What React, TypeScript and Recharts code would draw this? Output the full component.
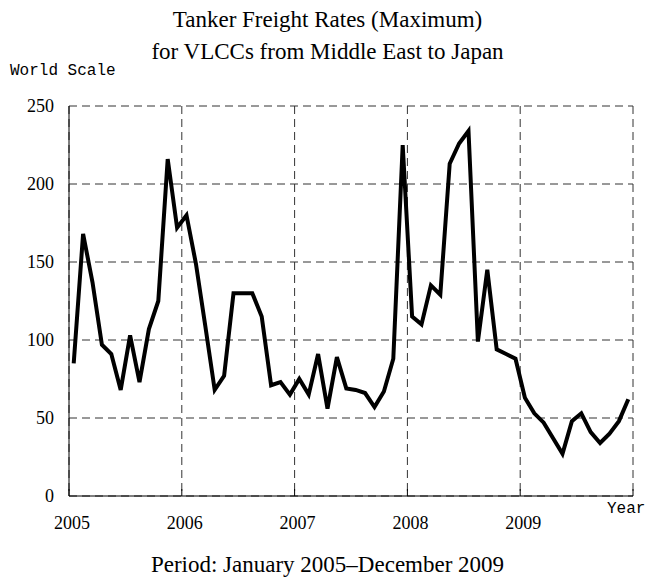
import { LineChart, Line, XAxis, YAxis, CartesianGrid } from 'recharts';

// monthly maximum rates, Jan 2005 - Dec 2009 (World Scale)
const rates = [
  85, 168, 137, 97, 91, 68, 103, 73, 107, 125, 216, 172,
  180, 149, 109, 68, 77, 130, 130, 130, 115, 71, 73, 65,
  75, 65, 91, 56, 89, 69, 68, 66, 57, 67, 88, 225,
  115, 110, 135, 129, 213, 226, 234, 99, 145, 94, 91, 88,
  63, 53, 47, 37, 27, 48, 53, 41, 34, 40, 48, 62
];
const years = ['2005', '2006', '2007', '2008', '2009'];
const yearTicks = [0, 12, 24, 36, 48, 60];
const scaleTicks = [0, 50, 100, 150, 200, 250];

const data = rates.map((v, i) => ({ m: i + 0.5, v }));

const serif = '"Liberation Serif", "Times New Roman", serif';
const mono = '"Liberation Mono", "DejaVu Sans Mono", monospace';

const TICK_GAP = 20;

function YearTick(props: any) {
  const { x, y, payload } = props;
  const label = years[payload.value / 12] ?? '';
  const axisY = y - TICK_GAP;
  return (
    <g>
      <line x1={x} x2={x} y1={axisY} y2={axisY - 7} stroke="#000" />
      <text x={x + 3} y={y} dy="0.71em" textAnchor="middle" fontFamily={serif} fontSize={18} fill="#000">
        {label}
      </text>
    </g>
  );
}

export default function App() {
  return (
    <div style={{ position: 'absolute', left: 0, top: 0, width: 655, height: 581, background: '#fff' }}>
      <div style={{ position: 'absolute', left: 0, width: 655, top: 4, textAlign: 'center', fontFamily: serif, fontSize: 23, lineHeight: '32px' }}>
        Tanker Freight Rates (Maximum)<br />for VLCCs from Middle East to Japan
      </div>
      <div style={{ position: 'absolute', left: 10, top: 62, fontFamily: mono, fontSize: 16 }}>World Scale</div>
      <div style={{ position: 'absolute', left: 607, top: 500, fontFamily: mono, fontSize: 16 }}>Year</div>
      <div style={{ position: 'absolute', left: 0, width: 655, top: 552, textAlign: 'center', fontFamily: serif, fontSize: 23 }}>
        Period: January 2005–December 2009
      </div>
      <LineChart width={655} height={581} data={data} margin={{ top: 106, right: 22, bottom: 55, left: 9 }}>
        <CartesianGrid stroke="#333" strokeDasharray="8 5" />
        <XAxis
          dataKey="m"
          type="number"
          domain={[0, 60]}
          ticks={yearTicks}
          interval={0}
          height={30}
          tickSize={0}
          tickMargin={TICK_GAP}
          tickLine={false}
          axisLine={{ stroke: '#000' }}
          tick={<YearTick />}
        />
        <YAxis
          type="number"
          domain={[0, 250]}
          ticks={scaleTicks}
          width={60}
          tickLine={false}
          tickSize={0}
          tickMargin={15}
          axisLine={{ stroke: '#000' }}
          tick={{ fill: '#000', fontFamily: serif, fontSize: 18 }}
        />
        <Line dataKey="v" stroke="#000" strokeWidth={4} dot={false} isAnimationActive={false} />
      </LineChart>
    </div>
  );
}
